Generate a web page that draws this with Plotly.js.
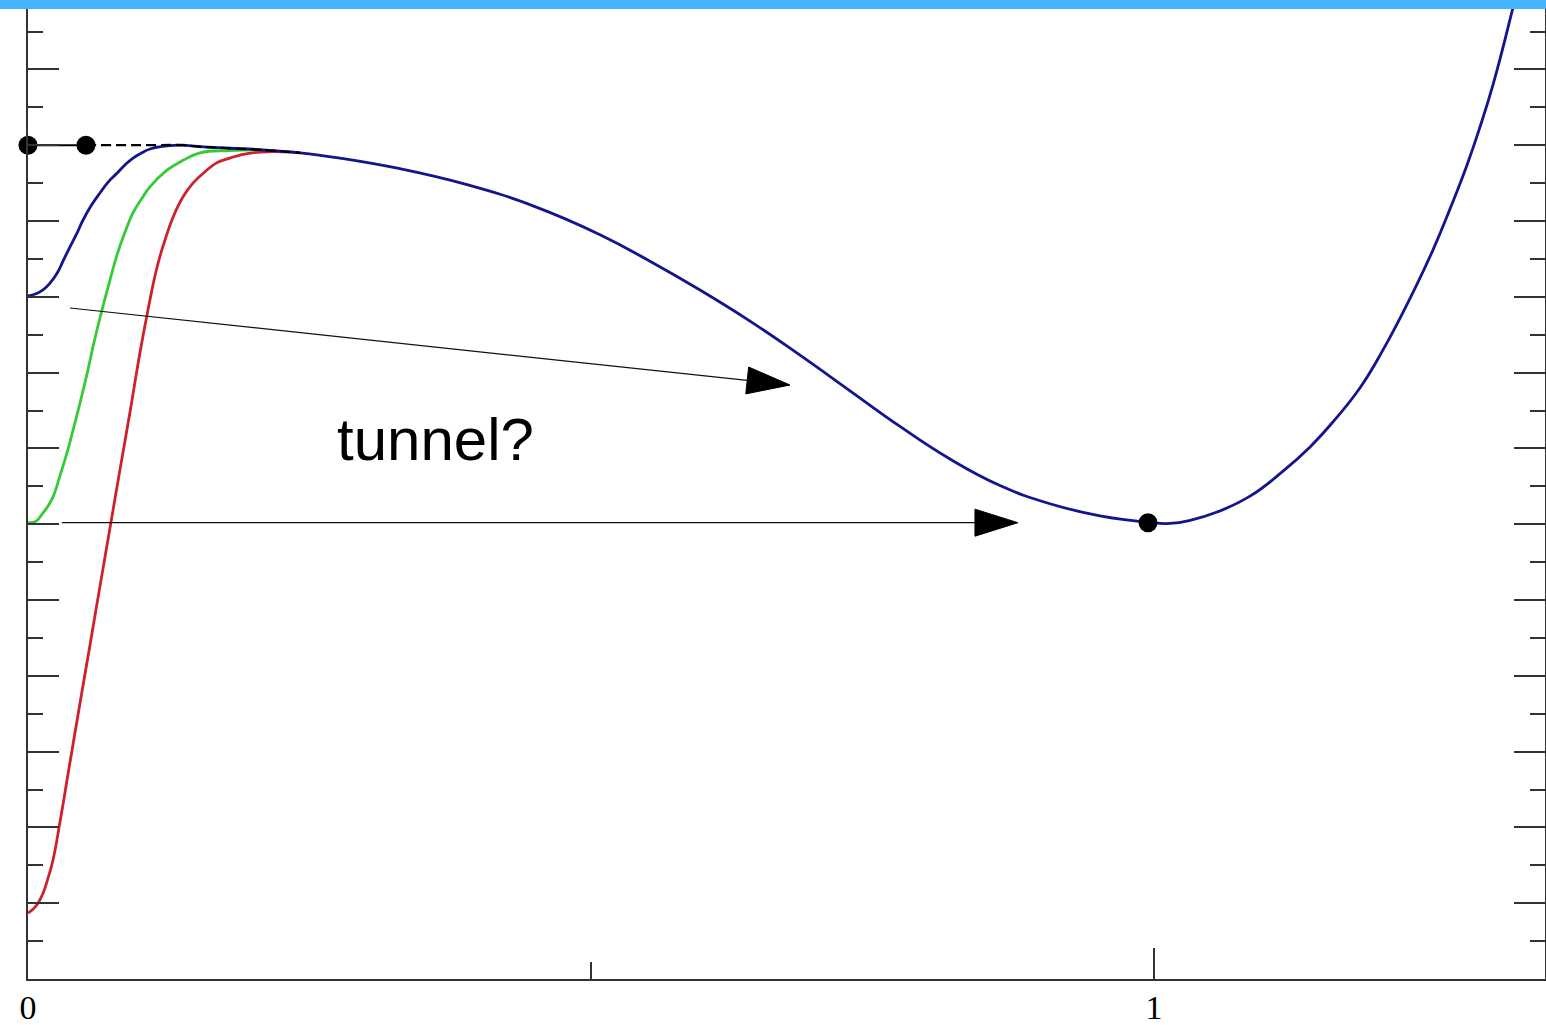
<!DOCTYPE html>
<html>
<head>
<meta charset="utf-8">
<script src="https://cdn.plot.ly/plotly-3.0.1.min.js"></script>
<style>
  html, body { margin: 0; padding: 0; background: #fff; overflow: hidden; }
  #wrap { position: relative; width: 1546px; height: 1025px; }
  #chart { width: 1546px; height: 1025px; }
  #topbar { position: absolute; left: 0; top: 0; width: 1546px; height: 9px; background: #43b4fd; z-index: 10; }
</style>
</head>
<body>
<div id="wrap"><div id="chart"></div><div id="topbar"></div></div>
<script>
// Potential V(x): flat top at 11 near x = 0, false minimum at x = 1
const potX = [0, 0.0515, 0.10, 0.1377, 0.1528, 0.1794, 0.2060, 0.2416, 0.2771, 0.3304, 0.3899, 0.4485,
              0.5080, 0.5524, 0.5968, 0.6412, 0.6856, 0.7300, 0.7744, 0.8188, 0.8632, 0.9076, 0.9520,
              0.9947, 1.0142, 1.0320, 1.0560, 1.0853, 1.1146, 1.1386, 1.1590, 1.1830, 1.2034, 1.2274,
              1.2478, 1.2629, 1.2780, 1.2895, 1.3011, 1.3162, 1.3250];
const potY = [11.00, 11.00, 11.00, 11.00, 10.98, 10.96, 10.94, 10.90, 10.83, 10.69, 10.48, 10.20,
              9.82, 9.47, 9.09, 8.68, 8.23, 7.76, 7.29, 6.86, 6.51, 6.27, 6.11,
              6.025, 6.01, 6.05, 6.16, 6.37, 6.70, 7.02, 7.35, 7.80, 8.30, 8.98,
              9.62, 10.16, 10.74, 11.24, 11.80, 12.66, 13.20];

// Trajectories starting from rest at three heights and merging onto the potential
const blueX = [0, 0.0071, 0.0133, 0.0195, 0.0258, 0.0311, 0.0373, 0.0435, 0.0488, 0.0560, 0.0639,
               0.0710, 0.0790, 0.0861, 0.0933, 0.1012, 0.1083, 0.1234, 0.1377];
const blueY = [9.01, 9.04, 9.09, 9.18, 9.31, 9.47, 9.66, 9.84, 10.01, 10.20, 10.37,
               10.51, 10.63, 10.74, 10.83, 10.90, 10.95, 10.99, 11.00];

const greenX = [0, 0.0071, 0.0133, 0.0178, 0.0222, 0.0284, 0.0346, 0.0400, 0.0462, 0.0524, 0.0577,
                0.0639, 0.0728, 0.0790, 0.0861, 0.0933, 0.1012, 0.1083, 0.1234, 0.1377, 0.1528,
                0.1794, 0.2060];
const greenY = [6.02, 6.04, 6.15, 6.24, 6.36, 6.64, 6.94, 7.24, 7.60, 7.98, 8.34,
                8.72, 9.22, 9.55, 9.85, 10.11, 10.30, 10.45, 10.67, 10.80, 10.90,
                10.93, 10.94];

const redX = [0, 0.0044, 0.0089, 0.0133, 0.0178, 0.0222, 0.0284, 0.0373, 0.0462, 0.0551, 0.0639,
              0.0728, 0.0817, 0.0906, 0.0995, 0.1066, 0.1146, 0.1217, 0.1288, 0.1377, 0.1465,
              0.1572, 0.1679, 0.1794, 0.1883, 0.2060, 0.2416];
const redY = [0.87, 0.92, 1.00, 1.13, 1.33, 1.57, 2.07, 2.86, 3.64, 4.41, 5.18,
              5.95, 6.72, 7.48, 8.27, 8.83, 9.39, 9.75, 10.05, 10.32, 10.50,
              10.65, 10.77, 10.83, 10.87, 10.91, 10.90];

// Marked points: top of the potential, start of the plateau, bottom of the well
const dotX = [0, 0.0515, 0.9947];
const dotY = [11.00, 11.00, 6.02];

// Arrows: tail -> tip
const arrowTailX = [0.0373, 0.0302];
const arrowTailY = [8.852, 6.02];
const arrowTipX  = [0.6767, 0.8792];
const arrowTipY  = [7.836, 6.02];

const labelText = 'tunnel?';
const labelX = 0.3615, labelY = 7.124;

// ---- layout geometry ----
const W = 1546, H = 1025;
const M = { l: 28, r: 1, t: 0, b: 46 };
const xRange = [0, 1.34725];
const yRange = [0, 12.9156];
const kx = (W - M.l - M.r) / (xRange[1] - xRange[0]);
const ky = (H - M.t - M.b) / (yRange[1] - yRange[0]);

const NAVY = '#14148c', GREEN = '#33cc33', RED = '#cc2228', INK = '#333333';

function segment(xs, ys, lo, hi) {
  const ox = [], oy = [];
  xs.forEach((x, i) => { if (x >= lo - 1e-9 && x <= hi + 1e-9) { ox.push(x); oy.push(ys[i]); } });
  return { x: ox, y: oy };
}

function curve(x, y, color, width, dash, shape) {
  return {
    type: 'scatter', mode: 'lines', x: x, y: y, hoverinfo: 'skip',
    line: { color: color, width: width, dash: dash || 'solid', shape: shape || 'spline', smoothing: 1.3 }
  };
}

const traces = [];
traces.push(curve(redX, redY, RED, 2.8));
traces.push(curve(greenX, greenY, GREEN, 2.8));
traces.push(curve(blueX, blueY, NAVY, 2.8));

const main = segment(potX, potY, 0.1377, 2);
traces.push(curve(main.x, main.y, NAVY, 2.8));

const dashed = segment(potX, potY, 0.0515, 0.2416);
traces.push(curve(dashed.x, dashed.y, '#000', 2.2, '10px,5px'));

const flat = segment(potX, potY, 0, 0.0515);
traces.push(curve(flat.x, flat.y, '#000', 2, 'solid', 'linear'));

// arrows: thin shaft + long narrow filled head
const HEAD_LEN = 43, HEAD_HALF = 13.5;
arrowTailX.forEach((tx, i) => {
  const ty = arrowTailY[i], px = arrowTipX[i], py = arrowTipY[i];
  const dx = (px - tx) * kx, dy = (py - ty) * ky;
  const len = Math.hypot(dx, dy);
  const ux = dx / len, uy = dy / len;
  const bx = px * kx - ux * HEAD_LEN, by = py * ky - uy * HEAD_LEN;
  const nx = -uy, ny = ux;
  traces.push({
    type: 'scatter', mode: 'lines', hoverinfo: 'skip',
    x: [tx, bx / kx], y: [ty, by / ky],
    line: { color: '#111', width: 1.2 }
  });
  traces.push({
    type: 'scatter', mode: 'lines', hoverinfo: 'skip', fill: 'toself', fillcolor: '#000',
    x: [px, (bx + nx * HEAD_HALF) / kx, (bx - nx * HEAD_HALF) / kx, px],
    y: [py, (by + ny * HEAD_HALF) / ky, (by - ny * HEAD_HALF) / ky, py],
    line: { color: '#000', width: 1 }
  });
});

traces.push({
  type: 'scatter', mode: 'markers', x: dotX, y: dotY, hoverinfo: 'skip', cliponaxis: false,
  marker: { color: '#000', size: 19, line: { width: 0 } }
});

const axisCommon = {
  showline: true, linecolor: INK, linewidth: 2,
  showgrid: false, zeroline: false,
  ticks: 'inside', tickcolor: INK, tickwidth: 2, ticklen: 31,
  tickmode: 'linear', tick0: 0, dtick: 1,
  fixedrange: true
};

const layout = {
  width: W, height: H,
  margin: M,
  paper_bgcolor: '#fff', plot_bgcolor: '#fff',
  showlegend: false,
  xaxis: Object.assign({}, axisCommon, {
    range: xRange, mirror: false,
    ticklabelstandoff: -3,
    tickfont: { family: 'Liberation Serif, Times New Roman, serif', size: 34, color: '#000' },
    minor: { ticks: 'inside', tick0: 0, dtick: 0.5, ticklen: 17, tickwidth: 2, tickcolor: INK }
  }),
  yaxis: Object.assign({}, axisCommon, {
    range: yRange, mirror: 'ticks', showticklabels: false,
    minor: { ticks: 'inside', tick0: 0, dtick: 0.5, ticklen: 15, tickwidth: 2, tickcolor: INK }
  }),
  annotations: [{
    x: labelX, y: labelY, xref: 'x', yref: 'y', text: labelText, showarrow: false,
    xanchor: 'center', yanchor: 'middle',
    font: { family: 'Liberation Sans, Arial, sans-serif', size: 60, color: '#000' }
  }]
};

Plotly.newPlot('chart', traces, layout, { staticPlot: true, displayModeBar: false });
</script>
</body>
</html>
